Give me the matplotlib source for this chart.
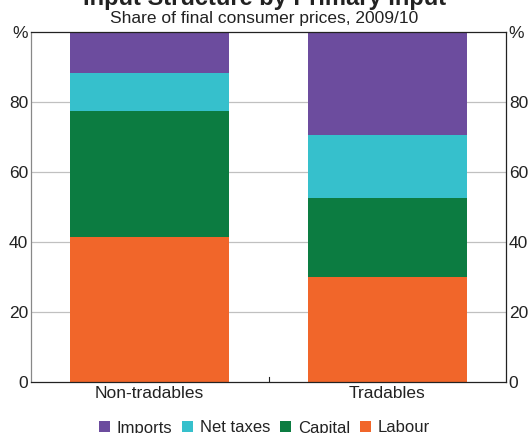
import matplotlib.pyplot as plt
import numpy as np

categories = ['Non-tradables', 'Tradables']
labour = [41.4, 30.0]
capital = [36.0, 22.6]
net_taxes = [10.9, 18.0]
imports = [11.7, 29.4]

colors = {'Imports': '#6c4c9e', 'Net taxes': '#36c0cc',
          'Capital': '#0c7c41', 'Labour': '#f1662a'}

plt.rcParams['font.family'] = ['Liberation Sans', 'DejaVu Sans']

fig = plt.figure(figsize=(5.29, 4.33), dpi=100)
ax = fig.add_axes([31 / 529, 1 - 382 / 433, 475 / 529, 350 / 433])

x = np.arange(len(categories))
w = 0.67
bottom = np.zeros(len(categories))
handles = {}
for name, vals in [('Labour', labour), ('Capital', capital),
                   ('Net taxes', net_taxes), ('Imports', imports)]:
    handles[name] = ax.bar(x, vals, w, bottom=bottom, color=colors[name],
                           zorder=2, label=name)
    bottom += np.array(vals)

ax.set_xlim(-0.5, 1.5)
ax.set_ylim(0, 100)
ax.set_yticks([0, 20, 40, 60, 80, 100])
ax.set_yticklabels(['0', '20', '40', '60', '80', '%'])
ax.tick_params(axis='y', length=0, labelsize=12.5, pad=2,
               labelright=True, right=False, colors='#222222')
for g in [20, 40, 60, 80]:
    ax.axhline(g, color='#c0c0c0', lw=0.9, zorder=1)

ax.set_xticks([0, 1])
ax.set_xticklabels(categories, fontsize=12.5, color='#222222')
ax.tick_params(axis='x', length=0, pad=3)
ax.axvline(0.5, ymin=0, ymax=0.015, color='#222222', lw=0.8)

for s in ax.spines.values():
    s.set_color('#222222')
    s.set_linewidth(0.9)
ax.spines['left'].set_color('#888888')

fig.text(0.5, 1 + 2 / 433, 'Input Structure by Primary Input', ha='center',
         va='center', fontsize=17, fontweight='bold', color='#222222')
fig.text(0.5, 1 - 18 / 433, 'Share of final consumer prices, 2009/10',
         ha='center', va='center', fontsize=12.5, color='#222222')

order = ['Imports', 'Net taxes', 'Capital', 'Labour']
fig.legend([handles[n] for n in order], order, loc='center',
           bbox_to_anchor=(0.5, 1 - 428 / 433), ncol=4, frameon=False,
           fontsize=12, handlelength=0.65, handleheight=0.65,
           handletextpad=0.4, columnspacing=0.6, labelcolor='#222222')

fig.savefig('out.png', dpi=100)
